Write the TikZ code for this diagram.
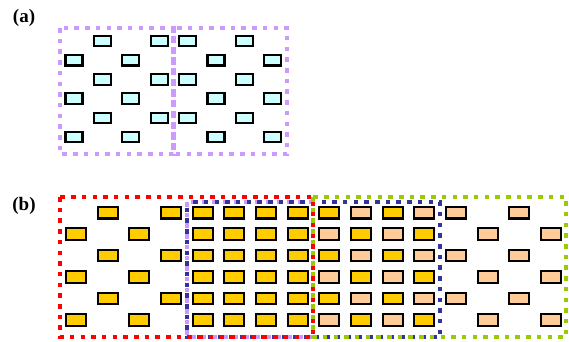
\documentclass[tikz,border=0pt]{standalone}
\usepackage{fontspec}
\setmainfont{Liberation Serif}
\usetikzlibrary{positioning}
\definecolor{CellLilac}{RGB}{204,153,255}
\definecolor{CellRed}{RGB}{255,0,0}
\definecolor{CellNavy}{RGB}{51,51,153}
\definecolor{CellLime}{RGB}{153,204,0}
\definecolor{SiteCyan}{RGB}{204,255,255}
\definecolor{SiteGold}{RGB}{255,204,0}
\definecolor{SitePeach}{RGB}{255,204,153}
\tikzset{
	site/.style={rectangle,draw=black,line width=2.1pt,inner sep=0pt},
	siteA/.style={site,fill=SiteCyan,minimum width=17pt,minimum height=10.5pt},
	siteB/.style={site,minimum width=20pt,minimum height=11.5pt},
	cellbox/.style={line width=4.5pt,dash pattern=on 4.5pt off 6.2pt},
	panel/.style={font=\bfseries\fontsize{19}{21}\selectfont,inner sep=0pt},
}

\begin{document}
\begin{tikzpicture}[x=1pt,y=-1pt]
	\useasboundingbox (0,0) rectangle (569,341);
	% labels
	\node[panel] (labA) at (24,18) {(a)};
	\node[panel] (labB) at (24,206) {(b)};
	% (a) two unit cells
	\draw[cellbox,draw=CellLilac] (60,28) rectangle (173.5,154);
	\draw[cellbox,draw=CellLilac] (173.5,28) rectangle (287,154);
	\foreach \r in {1,...,6}
	\foreach \c in {1,...,8} {
		\pgfmathtruncatemacro\pty{mod(\c+\r,2)}
		\pgfmathtruncatemacro\on{(\c<5 && \pty==1) || (\c>4 && \pty==0)}
		\ifnum\on=1
			\node[siteA] (a-\r-\c) at ({74+28.4*(\c-1)},{41+19.2*(\r-1)}) {};
		\fi
	}
	% (b) four unit cells
	\draw[cellbox,draw=CellLilac] (187,202) rectangle (313,337);
	\draw[cellbox,draw=CellNavy,dash phase=5pt] (187,202) rectangle (440,337);
	\draw[cellbox,draw=CellRed] (60,197) rectangle (313,337);
	\draw[cellbox,draw=CellLime] (313,197) rectangle (566,337);
	\foreach \r in {1,...,6}
	\foreach \c in {1,...,16} {
		\pgfmathtruncatemacro\pty{mod(\c+\r,2)}
		\pgfmathtruncatemacro\kind{\c<5 ? (\pty==1 ? 1 : 0) :
			(\c<9 ? 1 : (\c<13 ? (\pty==0 ? 1 : 2) : (\pty==0 ? 2 : 0)))}
		\ifnum\kind=1
			\node[siteB,fill=SiteGold] (b-\r-\c) at ({76+31.67*(\c-1)},{212.7+21.45*(\r-1)}) {};
		\fi
		\ifnum\kind=2
			\node[siteB,fill=SitePeach] (b-\r-\c) at ({76+31.67*(\c-1)},{212.7+21.45*(\r-1)}) {};
		\fi
	}
\end{tikzpicture}
\end{document}
